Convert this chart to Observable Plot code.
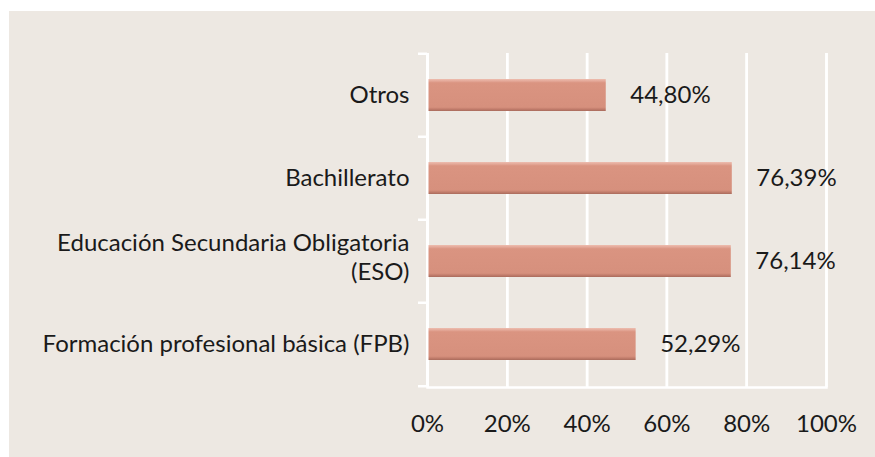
<!DOCTYPE html>
<html>
<head>
<meta charset="utf-8">
<script src="https://cdn.jsdelivr.net/npm/d3@7"></script>
<script src="https://cdn.jsdelivr.net/npm/@observablehq/plot@0.6"></script>
<style>
  html, body { margin: 0; padding: 0; background: #ffffff; }
  #wrap { position: absolute; left: 9px; top: 11px; width: 866px; height: 446px; background: #EDE8E2; }
  svg { font-family: Lato, "Open Sans", sans-serif; }
</style>
</head>
<body>
<div id="wrap"></div>
<script>
const categories = ["Otros", "Bachillerato", "Educación Secundaria Obligatoria\n(ESO)", "Formación profesional básica (FPB)"];
const values = [0.4480, 0.7639, 0.7614, 0.5229];
const xTicks = [0, 0.2, 0.4, 0.6, 0.8, 1.0];

const data = categories.map((c, i) => ({category: c, value: values[i]}));
const fmt = v => (v * 100).toFixed(2).replace(".", ",") + "%";

const W = 866, H = 446;
const mL = 418, mR = 49, mT = 42, mB = 70;
const step = (H - mT - mB) / categories.length;

function gradientDefs() {
  const ns = "http://www.w3.org/2000/svg";
  const defs = document.createElementNS(ns, "defs");
  const g = document.createElementNS(ns, "linearGradient");
  g.setAttribute("id", "barGrad");
  g.setAttribute("x1", "0"); g.setAttribute("y1", "0");
  g.setAttribute("x2", "0"); g.setAttribute("y2", "1");
  [["0", "#EDBDAF"], ["0.07", "#E3A696"], ["0.12", "#DA9481"], ["0.88", "#D6907D"], ["0.94", "#C27D6C"], ["1", "#A96B5C"]]
    .forEach(([o, c]) => {
      const s = document.createElementNS(ns, "stop");
      s.setAttribute("offset", o); s.setAttribute("stop-color", c);
      g.appendChild(s);
    });
  defs.appendChild(g);
  return defs;
}

const chart = Plot.plot({
  width: W,
  height: H,
  marginLeft: mL,
  marginRight: mR,
  marginTop: mT,
  marginBottom: mB,
  style: {background: "transparent", fontSize: "24px", fontFamily: "Lato, 'Open Sans', sans-serif", color: "#1a1a1a"},
  x: {domain: [0, 1], axis: null},
  y: {domain: categories, axis: null, paddingInner: 0.61, paddingOuter: 0.305},
  marks: [
    gradientDefs,
    Plot.gridX(xTicks, {stroke: "#ffffff", strokeOpacity: 1, strokeWidth: 2.5}),
    // y axis line
    Plot.ruleX([0], {stroke: "#ffffff", strokeWidth: 2.5}),
    // x axis line
    Plot.frame({anchor: "bottom", stroke: "#ffffff", strokeWidth: 2.5}),
    // x ticks below the axis
    Plot.tickX(xTicks, {x: d => d, frameAnchor: "bottom", stroke: "#ffffff", strokeWidth: 2.5}),
    // y boundary ticks
    Plot.ruleY(categories, {y: d => d, x1: -0.0226, x2: 0, dy: -step / 2, stroke: "#ffffff", strokeWidth: 2.5}),
    Plot.ruleY(categories.slice(-1), {y: d => d, x1: -0.0226, x2: 0, dy: step / 2, stroke: "#ffffff", strokeWidth: 2.5}),
    Plot.barX(data, {x: "value", y: "category", fill: "url(#barGrad)", insetLeft: 1.5}),
    Plot.text(data, {x: "value", y: "category", text: d => fmt(d.value), textAnchor: "start", dx: 24, fill: "#1a1a1a", fontSize: 24}),
    Plot.text(categories, {y: d => d, filter: d => !d.includes("\n"), frameAnchor: "left", textAnchor: "end", dx: -18, fill: "#1a1a1a", fontSize: 24}),
    Plot.text(categories, {y: d => d, filter: d => d.includes("\n"), frameAnchor: "left", textAnchor: "end", dx: -18, dy: -5, fill: "#1a1a1a", fontSize: 24, lineHeight: 1.2}),
    Plot.text(xTicks, {x: d => d, text: d => Math.round(d * 100) + "%", frameAnchor: "bottom", dy: 44, fill: "#1a1a1a", fontSize: 24})
  ]
});

document.getElementById("wrap").appendChild(chart);
</script>
</body>
</html>
